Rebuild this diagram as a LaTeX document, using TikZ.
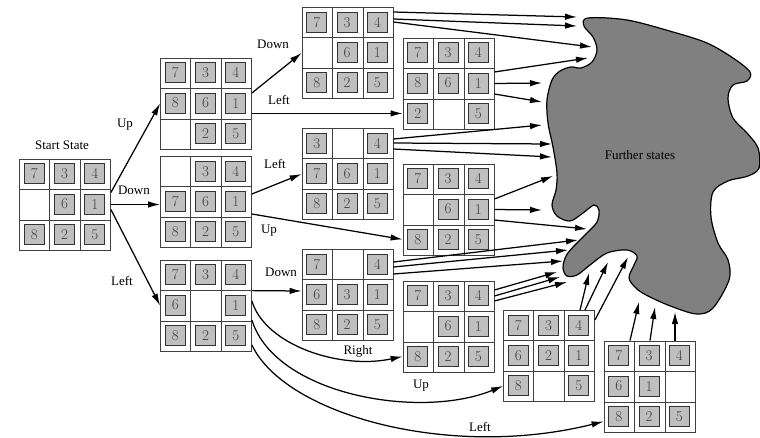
\documentclass[tikz,border=0pt]{standalone}
\usepackage{fontspec}
\newfontfamily\lblfont{Liberation Serif}
\usetikzlibrary{arrows.meta}

\tikzset{
  board/.style={draw=black!75,line width=0.8pt,minimum size=91pt,inner sep=0pt},
  grid/.style={draw=black!75,line width=0.8pt},
  tile/.style={draw=black!80,fill=black!25,line width=0.9pt,minimum size=20pt,inner sep=0pt,
    text=black!75,font=\fontsize{15}{15}\selectfont},
  move/.style={-{Latex[length=12pt,width=6.5pt]},line width=1.25pt},
  lbl/.style={font=\lblfont\fontsize{13}{15}\selectfont,inner sep=1pt},
  blob/.style={draw=black,line width=1.2pt,fill=black!50}
}

% one 8-puzzle board: name, centre, the nine entries (0 = blank)
\newcommand{\puzzle}[3]{%
  \node[board] (#1) at (#2) {};
  \draw[grid] ([xshift=30.33pt]#1.north west) -- ([xshift=30.33pt]#1.south west)
              ([xshift=-30.33pt]#1.north east) -- ([xshift=-30.33pt]#1.south east)
              ([yshift=-30.33pt]#1.north west) -- ([yshift=-30.33pt]#1.north east)
              ([yshift=30.33pt]#1.south west) -- ([yshift=30.33pt]#1.south east);
  \foreach \v [count=\i from 0] in {#3} {
    \pgfmathtruncatemacro\prow{div(\i,3)}
    \pgfmathtruncatemacro\pcol{mod(\i,3)}
    \ifnum\v>0
      \node[tile] (#1-\i) at ([shift={(15.17+30.33*\pcol,15.17+30.33*\prow)}]#1.north west) {\v};
    \fi
  }%
}

\begin{document}
\begin{tikzpicture}[x=1pt,y=-1pt]
\useasboundingbox (0,0) rectangle (760,437);

% further states
\draw[blob] plot[smooth cycle,tension=0.55] coordinates {
  (588,18) (627,20) (673,32) (707,43) (733,58) (750,72) (747,81) (733,85) (728,98)
  (733,118) (747,133) (758,148) (759,168) (748,176) (728,181) (713,192) (711,217)
  (718,243) (728,260) (729,280) (713,308) (697,314) (673,307) (650,297) (637,289)
  (629,278) (634,265) (637,256) (627,250) (607,253) (590,265) (577,275) (567,276)
  (563,268) (566,256) (574,246) (587,233) (597,222) (599,210) (594,205) (583,213)
  (570,221) (557,216) (552,205) (556,190) (557,173) (553,147) (548,123) (547,100)
  (552,80) (560,71) (571,67) (581,68) (592,62) (597,50) (593,37) (584,26)};
\node[lbl] (further) at (640,155) {Further states};

% boards
\puzzle{start}{65,204.5}{7,3,4,0,6,1,8,2,5}
\node[lbl] (startlbl) at (62,145) {Start State};

\puzzle{up}{206,103.5}{7,3,4,8,6,1,0,2,5}
\puzzle{down}{206,202}{0,3,4,7,6,1,8,2,5}
\puzzle{left}{206,305.5}{7,3,4,6,0,1,8,2,5}

\puzzle{upDown}{347.5,53}{7,3,4,0,6,1,8,2,5}
\puzzle{upLeft}{448.5,83.5}{7,3,4,8,6,1,2,0,5}
\puzzle{downLeft}{347.5,174}{3,0,4,7,6,1,8,2,5}
\puzzle{downUp}{448.5,209.5}{7,3,4,0,6,1,8,2,5}
\puzzle{leftDown}{347.5,295}{7,0,4,6,3,1,8,2,5}
\puzzle{leftRight}{448.5,326.5}{7,3,4,0,6,1,8,2,5}
\puzzle{leftUp}{549,356}{7,3,4,6,2,1,8,0,5}
\puzzle{leftLeft}{649.5,386.5}{7,3,4,6,1,0,8,2,5}

% first moves
\draw[move] ([yshift=12pt]start.east) -- (up.west);
\draw[move] (start.east) -- (start.east -| down.west);
\draw[move] ([yshift=-5pt]start.east) -- (left.west);
\node[lbl] (m1) at (125,125) {Up};
\node[lbl] (m2) at (134,190) {Down};
\node[lbl] (m3) at (122,281) {Left};

% second moves
\draw[move] ([yshift=10.5pt]up.east) -- (upDown.west);
\draw[move] (up.east |- upLeft-6) -- (upLeft.west |- upLeft-6);
\draw[move] ([yshift=8pt]down.east) -- (downLeft.west);
\draw[move] ([yshift=-12pt]down.east) -- (downUp.west |- downUp-6);
\draw[move] (left.east |- leftDown-3) ++(0,-4) -- ([yshift=4pt]leftDown.west);
\draw[move] ([yshift=4.5pt]left.east) .. controls (265,345) and (340,370) .. (leftRight.west |- leftRight-6);
\draw[move] ([yshift=-14.5pt]left.east) .. controls (275,395) and (420,420) .. (leftUp.west |- leftUp-6);
\draw[move] ([yshift=-39.5pt]left.east) .. controls (285,415) and (450,460) .. ([yshift=-35pt]leftLeft.west);
\node[lbl] (m4) at (273,44) {Down};
\node[lbl] (m5) at (279,100) {Left};
\node[lbl] (m6) at (275,164) {Left};
\node[lbl] (m7) at (269,231) {Up};
\node[lbl] (m8) at (281,272) {Down};
\node[lbl] (m9) at (358,351) {Right};
\node[lbl] (m10) at (421,386) {Up};
\node[lbl] (m11) at (480,427) {Left};

% on to the further states
\coordinate (f1) at (577,17);  \coordinate (f2) at (577,26);  \coordinate (f3) at (592,47);
\coordinate (f4) at (588,58);  \coordinate (f5) at (542,83);  \coordinate (f6) at (542,102);
\coordinate (f7) at (542,125); \coordinate (f8) at (552,144); \coordinate (f9) at (552,157);
\coordinate (f10) at (553,176); \coordinate (f11) at (542,210); \coordinate (f12) at (587,229);
\coordinate (f13) at (578,240); \coordinate (f14) at (568,250); \coordinate (f15) at (563,261);
\coordinate (f16) at (557,272); \coordinate (f17) at (560,277); \coordinate (f18) at (567,282);
\coordinate (f19) at (589,273); \coordinate (f20) at (608,262); \coordinate (f21) at (628,257);
\coordinate (f22) at (639,302); \coordinate (f23) at (655,307); \coordinate (f24) at (675,312);

\foreach \b/\s/\n in {upDown/41/1,upDown/34/2,upDown/31/3,
  upLeft/11.5/4,upLeft/0/5,upLeft/-10.5/6,
  downLeft/35/7,downLeft/31/8,downLeft/25/9,
  downUp/10.5/10,downUp/0/11,downUp/-10.5/12,
  leftDown/33/13,leftDown/28/14,leftDown/21/15,
  leftRight/36.5/16,leftRight/30.5/17,leftRight/25.5/18}
  \draw[move] ([yshift=\s]\b.east) -- (f\n);
\draw[move] ([xshift=31pt]leftUp.north) -- (f19);
\draw[move] ([xshift=36pt]leftUp.north) -- (f20);
\draw[move] ([yshift=36pt]leftUp.east) -- (f21);
\foreach \s/\n in {-19.5/22,0.5/23,25.5/24}
  \draw[move] ([xshift=\s]leftLeft.north) -- (f\n);
\end{tikzpicture}
\end{document}
